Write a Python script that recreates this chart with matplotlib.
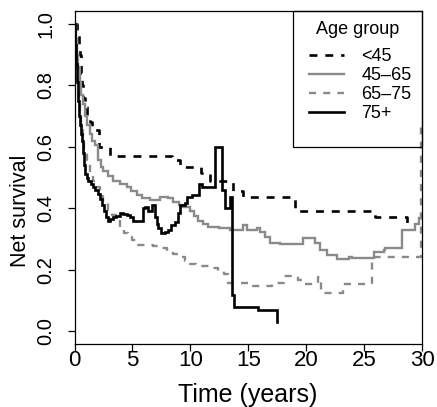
import matplotlib
matplotlib.use("Agg")
import matplotlib.pyplot as plt
from matplotlib.lines import Line2D
from matplotlib.patches import Rectangle

plt.rcParams['font.family'] = ['Liberation Sans', 'DejaVu Sans']

# ---- data ----
groups = ["<45", "45–65", "65–75", "75+"]

t_lt45 = [0, 0.2, 0.35, 0.45, 0.55, 0.65, 0.76, 0.9, 1.05, 1.3, 1.5, 2.14, 3.07, 8.4, 9.1, 10.9, 11.7,
          13.7, 14.55, 19.0, 25.9, 28.7, 29.1]
s_lt45 = [1.0, 0.97, 0.93, 0.9, 0.84, 0.8, 0.76, 0.73, 0.70, 0.68, 0.655, 0.60, 0.571, 0.557, 0.535, 0.515, 0.487,
          0.455, 0.437, 0.39, 0.372, 0.353, 0.353]

t_45_65 = [0, 0.1, 0.2, 0.3, 0.47, 0.6, 0.75, 0.91, 1.1, 1.34, 1.55, 1.77, 2.05, 2.25, 2.49, 2.9, 3.35, 3.9, 4.5,
           4.9, 5.37, 5.8, 6.52, 7.38, 8.1, 8.53, 9.0, 9.39, 9.97, 10.3, 10.69, 11.1, 11.55, 12.5, 13.43, 14.57,
           14.87, 15.73, 16.01, 16.4, 16.88, 17.74, 19.75, 20.33, 20.76, 21.19, 21.77, 22.64, 23.64, 23.93,
           25.8, 26.66, 26.8, 28.25, 29.4, 29.68, 29.9, 30.0]
s_45_65 = [1.0, 0.95, 0.9, 0.86, 0.81, 0.77, 0.74, 0.70, 0.67, 0.64, 0.62, 0.605, 0.557, 0.535, 0.52, 0.505,
           0.49, 0.48, 0.47, 0.455, 0.443, 0.432, 0.427, 0.435, 0.432, 0.42, 0.412, 0.405, 0.39, 0.375, 0.36,
           0.35, 0.34, 0.335, 0.33, 0.345, 0.33, 0.335, 0.323, 0.305, 0.286, 0.283, 0.302, 0.302, 0.286, 0.264,
           0.248, 0.234, 0.242, 0.237, 0.258, 0.264, 0.269, 0.329, 0.35, 0.367, 0.38, 0.38]

t_65_75 = [0, 0.1, 0.2, 0.3, 0.4, 0.5, 0.6, 0.72, 0.82, 1.05, 1.34, 1.6, 1.92, 2.2, 2.49, 2.85, 3.21, 3.6,
           3.93, 4.3, 4.64, 5.0, 5.5, 6.8, 7.5, 8.0, 8.5, 9.0, 9.5, 10.0, 10.5, 11.7, 12.4, 12.9, 13.2, 15.2,
           17.05, 18.1, 19.3, 19.65, 21.0, 21.3, 23.2, 25.65, 29.85, 30.0]
s_65_75 = [1.0, 0.93, 0.86, 0.8, 0.75, 0.7, 0.66, 0.62, 0.59, 0.557, 0.51, 0.49, 0.47, 0.44, 0.416, 0.395,
           0.378, 0.36, 0.34, 0.32, 0.307, 0.295, 0.28, 0.277, 0.27, 0.262, 0.252, 0.24, 0.228, 0.22, 0.212,
           0.206, 0.197, 0.185, 0.155, 0.147, 0.157, 0.179, 0.165, 0.152, 0.177, 0.125, 0.153, 0.242, 0.68, 0.68]

t_75p = [0, 0.05, 0.1, 0.19, 0.3, 0.4, 0.47, 0.55, 0.62, 0.7, 0.8, 0.91, 1.05, 1.2, 1.4, 1.62, 1.8, 2.0, 2.2,
         2.4, 2.55, 2.72, 2.92, 3.1, 3.32, 3.6, 3.93, 4.2, 4.5, 4.8, 5.08, 5.94, 6.09, 6.35, 6.67, 6.95, 7.1,
         7.23, 7.5, 7.8, 8.07, 8.35, 8.67, 8.95, 9.1, 9.54, 9.7, 10.1, 10.7, 10.78, 10.98, 12.1, 12.71, 13.0,
         13.43, 13.55, 13.77, 15.84, 17.46]
s_75p = [1.0, 0.93, 0.87, 0.81, 0.75, 0.7, 0.67, 0.64, 0.62, 0.58, 0.54, 0.51, 0.5, 0.49, 0.48, 0.47, 0.46,
         0.445, 0.43, 0.41, 0.39, 0.37, 0.36, 0.365, 0.37, 0.375, 0.385, 0.38, 0.378, 0.37, 0.36, 0.40, 0.405,
         0.39, 0.41, 0.372, 0.35, 0.335, 0.318, 0.323, 0.33, 0.345, 0.356, 0.383, 0.41, 0.416, 0.437, 0.443,
         0.448, 0.48, 0.47, 0.60, 0.46, 0.40, 0.437, 0.117, 0.08, 0.07, 0.03]

x_ticks = [0, 5, 10, 15, 20, 25, 30]
y_ticks = [0.0, 0.2, 0.4, 0.6, 0.8, 1.0]
y_ticklabels = ["0.0", "0.2", "0.4", "0.6", "0.8", "1.0"]

# ---- figure ----
W, H = 437, 407
fig = plt.figure(figsize=(W / 100, H / 100), dpi=100)
ax = fig.add_axes([74.5 / W, 1 - 344 / H, (422.3 - 74.5) / W, (344 - 11) / H])

grey = "#8a8a8a"
styles = [
    dict(color="black", lw=1.9, ls=(0, (3, 3))),
    dict(color=grey, lw=1.7, ls="-"),
    dict(color=grey, lw=1.7, ls=(0, (3, 3))),
    dict(color="black", lw=1.9, ls="-"),
]
series = [(t_lt45, s_lt45), (t_45_65, s_45_65), (t_65_75, s_65_75), (t_75p, s_75p)]
for (t, s), st in zip(series, styles):
    ax.plot(t, s, drawstyle="steps-post", color=st["color"], lw=st["lw"], ls=st["ls"],
            solid_joinstyle="miter", zorder=2)

ax.set_xlim(0, 30)
ax.set_ylim(-0.042, 1.042)
ax.set_xticks(x_ticks)
ax.set_xticklabels([str(v) for v in x_ticks])
ax.set_yticks(y_ticks)
ax.set_yticklabels(y_ticklabels)
for sp in ax.spines.values():
    sp.set_linewidth(0.9)
    sp.set_color("black")
ax.tick_params(direction="out", length=5, width=0.9, colors="black")
ax.tick_params(axis="x", labelsize=16, pad=-1)
ax.tick_params(axis="y", labelsize=14.5, pad=9, labelrotation=90)
for lab in ax.get_yticklabels():
    lab.set_va("center")

ax.set_xlabel("Time (years)", fontsize=18)
ax.xaxis.set_label_coords(0.499, -0.118)
ax.xaxis.label.set_va("top")
ax.set_ylabel("Net survival", fontsize=15.5)
ax.yaxis.set_label_coords(-0.125, 0.40)

# ---- legend ----
ax.add_patch(Rectangle(((293 - 74.5) / 347.8, (344 - 147) / 333), 129.3 / 347.8, 136 / 333,
                       transform=ax.transAxes, fill=False, edgecolor="black", lw=0.9, zorder=3,
                       clip_on=False))
ax.text(((293 + 422.3) / 2 - 74.5) / 347.8, (344 - 30) / 333, "Age group", transform=ax.transAxes,
        ha="center", va="center", fontsize=13)
handles = [Line2D([], [], color=st["color"], lw=st["lw"], ls=st["ls"]) for st in styles]
ax.legend(handles, groups, loc="upper left", bbox_to_anchor=((309 - 74.5) / 347.8, (344 - 48) / 333),
          frameon=False, fontsize=13, handlelength=1.95, handletextpad=0.95, labelspacing=0.12,
          borderpad=0, borderaxespad=0)

fig.savefig("out.png", dpi=100)
